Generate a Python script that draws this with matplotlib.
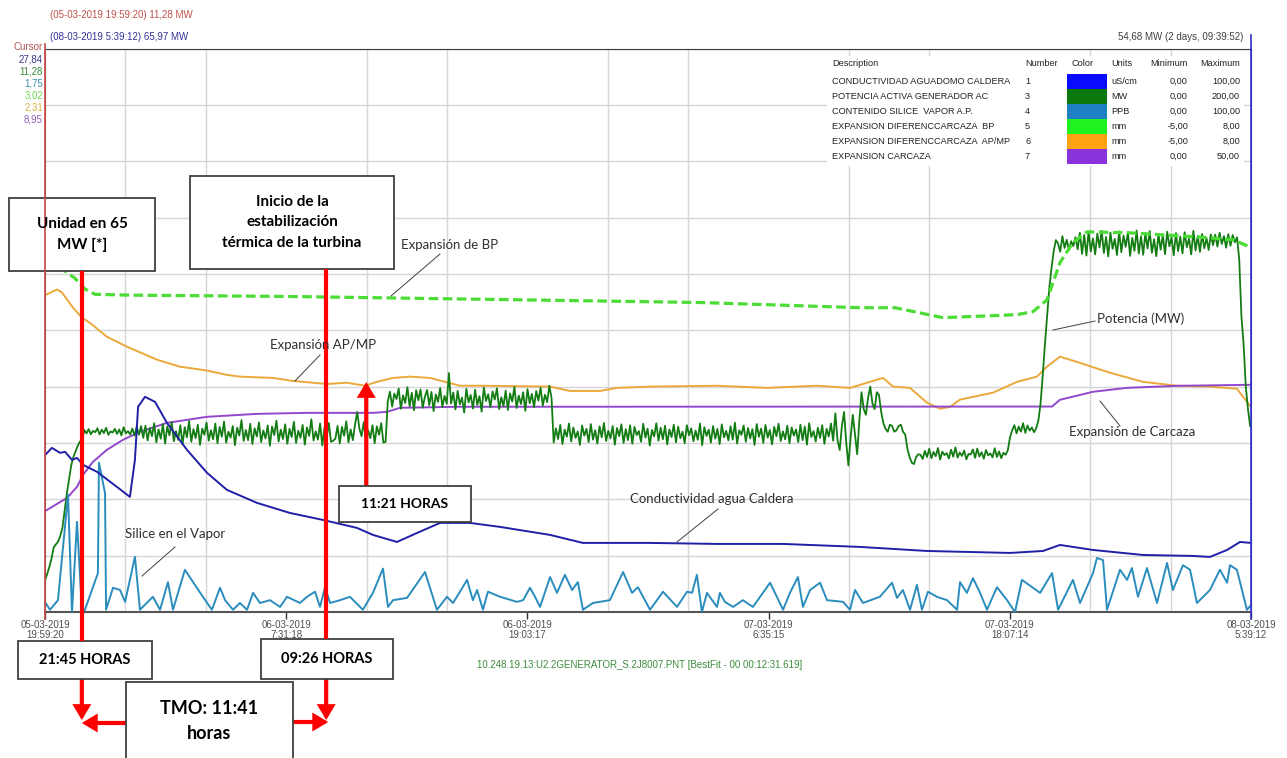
import numpy as np
import pandas as pd
import matplotlib.pyplot as plt
from matplotlib.patches import Rectangle, FancyArrowPatch

UI = 'Liberation Sans'
NOTE = 'Lato'

# trend window between the two cursors
t0 = pd.Timestamp('2019-03-05 19:59:20')
t1 = pd.Timestamp('2019-03-08 05:39:12')
span_h = (t1 - t0) / pd.Timedelta(hours=1)
dt_h = pd.Timedelta('00:12:31.619') / pd.Timedelta(hours=1)   # BestFit interval

tick_stamps = ['2019-03-05 19:59:20', '2019-03-06 07:31:18', '2019-03-06 19:03:17',
               '2019-03-07 06:35:15', '2019-03-07 18:07:14', '2019-03-08 05:39:12']
tick_labels = ['05-03-2019\n19:59:20', '06-03-2019\n7:31:18', '06-03-2019\n19:03:17',
               '07-03-2019\n6:35:15', '07-03-2019\n18:07:14', '08-03-2019\n5:39:12']

# pen table
desc = ['CONDUCTIVIDAD AGUADOMO CALDERA', 'POTENCIA ACTIVA GENERADOR AC',
        'CONTENIDO SILICE  VAPOR A.P.', 'EXPANSION DIFERENCCARCAZA  BP',
        'EXPANSION DIFERENCCARCAZA  AP/MP', 'EXPANSION CARCAZA']
numbers = [1, 3, 4, 5, 6, 7]
units = ['uS/cm', 'MW', 'PPB', 'mm', 'mm', 'mm']
v_min = [0, 0, 0, -5, -5, 0]
v_max = [100, 200, 100, 8, 8, 50]
swatch = ['#0a0aff', '#0b780b', '#1c80c2', '#1ff21f', '#ffa312', '#8a32dc']
pen = ['#1f1fa8', '#137c13', '#2a8dbd', '#4bdc35', '#eaa93a', '#9248cc']
cursor_txt = ['#3a3a8c', '#3d8a3d', '#3b8fb0', '#6fd656', '#d9b040', '#8b62b8']

# 1 - conductividad (uS/cm)
cond_t = [0, 0.33, 0.72, 0.96, 1.29, 1.53, 1.82, 2.49, 3.44, 4.06, 4.30, 4.45, 4.78, 5.26,
          5.83, 6.79, 7.75, 8.70, 10.14, 11.71, 13.29, 14.92, 15.68, 16.83, 17.79, 18.89,
          20.32, 21.76, 24.15, 25.72, 28.93, 32.13, 35.29, 38.97, 42.17, 46.14, 47.72,
          48.53, 50.11, 52.50, 54.89, 55.70, 56.52, 57.14, 57.66]
cond_v = [27.84, 29.13, 28.24, 28.42, 27.00, 27.35, 26.11, 24.87, 22.20, 20.43, 27.00, 36.41,
          38.19, 37.30, 33.57, 28.77, 24.69, 21.67, 19.36, 17.58, 16.34, 14.92, 13.68, 12.43,
          14.03, 15.81, 15.81, 15.10, 13.68, 12.26, 12.26, 12.08, 12.08, 11.55, 10.83, 10.48,
          10.83, 11.90, 11.01, 10.12, 9.95, 9.77, 11.01, 12.43, 12.26]

# 3 - potencia activa (MW), sampled every half BestFit interval
gen_mw = [
    # synchronisation ramp
    11.28, 13.5, 16, 19, 23, 24, 25, 27, 30, 36, 42, 47, 52, 55, 57, 59, 60.5, 61,
    # 65 MW hold
    64.6, 63.4, 64.9, 63.1, 64.3, 63.8, 65.2, 63.0, 64.7, 63.5,
    65.4, 62.9, 64.1, 63.7, 65.0, 63.2, 64.8, 62.7, 65.6, 63.4,
    64.2, 63.0, 65.1, 62.6, 65.8, 62.9, 66.0,
    61.8, 66.1, 60.9, 65.3, 62.4, 67.0, 60.2, 64.8, 61.5, 66.7,
    59.8, 65.9, 62.7, 67.4, 60.6, 64.2, 61.1, 66.3, 59.5, 65.6,
    62.0, 67.8, 60.4, 64.9, 61.7, 66.5, 59.3, 65.1, 62.9, 67.2,
    60.8, 64.5, 61.3, 66.9, 59.9, 65.7, 62.2, 67.6, 60.1, 64.0,
    61.9, 66.0, 59.2, 65.4, 62.6, 68.1, 60.7, 64.6, 61.0, 66.8,
    59.6, 65.2, 62.3, 67.3, 60.3, 64.4, 61.6, 66.2, 59.0, 65.8,
    62.8, 67.9, 60.5, 64.7, 61.4, 66.6, 59.7, 65.0, 62.1, 67.5,
    60.0, 64.3, 61.8, 66.4, 59.4, 65.5, 62.5, 68.4, 60.9, 64.1,
    61.2, 66.9, 59.1, 65.3, 62.0, 67.1, 60.4, 60.8, 61.5, 66.0,
    59.8, 65.7, 62.6, 67.7, 60.2, 64.8, 61.0, 66.5, 71.0, 65.1,
    62.4, 67.4, 60.6, 64.5, 61.7, 66.3, 59.9, 65.9, 62.9, 67.0,
    60.1, 60.4,
    # step up
    74.8, 78.2, 72.9, 77.5, 75.6, 79.3, 72.1, 76.9, 74.2, 79.8,
    73.0, 77.8, 71.6, 78.7, 75.2, 79.0, 72.5, 76.4, 78.8, 73.4,
    78.1, 71.3, 77.2, 74.6, 79.5, 72.8, 76.7, 73.9, 84.8, 74.0,
    77.9, 71.9, 78.5, 73.7, 76.1, 70.8, 79.2, 74.4, 77.0, 72.2,
    78.9, 73.5, 76.6, 71.1, 79.7, 74.9, 77.3, 72.6, 78.3, 75.4,
    79.4, 72.0, 76.2, 73.1, 78.6, 71.7, 77.6, 74.7, 79.9, 72.4,
    76.8, 73.8, 78.0, 71.4, 79.1, 74.1, 77.4, 72.7, 78.4, 75.0,
    79.6, 73.3, 77.1, 74.5, 80.3, 76.0,
    # back to 65 MW
    60.1, 65.2, 61.4, 66.4, 59.6, 64.7, 62.2, 66.9, 60.5, 65.5,
    61.8, 64.1, 59.3, 66.2, 62.6, 65.0, 60.3, 66.7, 61.2, 64.5,
    59.8, 65.9, 62.0, 67.1, 60.7, 64.3, 61.6, 66.0, 59.4, 65.3,
    62.4, 66.6, 60.0, 64.9, 61.0, 66.3, 59.7, 65.7, 62.8, 64.2,
    60.4, 66.8, 61.9, 65.1, 59.1, 64.6, 62.3, 67.0, 60.8, 65.4,
    61.3, 66.1, 59.5, 64.8, 62.1, 66.5, 60.2, 65.8, 61.7, 64.0,
    59.9, 66.3, 62.7, 65.2, 60.6, 64.4, 61.1, 66.9, 59.2, 65.6,
    62.5, 64.7, 60.1, 66.0, 61.5, 65.0, 59.6, 66.6, 62.0, 64.3,
    60.9, 65.9, 61.2, 67.2, 59.8, 64.5, 62.9, 66.2, 60.4, 65.3,
    61.6, 64.9, 59.3, 66.7, 62.2, 65.1, 60.0, 66.4, 61.9, 64.6,
    59.5, 65.7, 62.4, 66.8, 60.7, 64.1, 61.3, 66.1, 59.9, 65.5,
    62.6, 64.8, 60.3, 66.5, 61.0, 65.8, 59.4, 67.0, 62.1, 64.2,
    60.5, 65.4, 61.8, 66.3, 59.7, 65.0, 62.3, 66.9, 60.8, 70.5,
    61.0, 57.5, 66.0,
    # unstable stretch
    71, 60, 52, 62, 70, 63, 56, 68, 78, 72, 70, 76, 80, 74, 72, 78, 77, 71,
    67, 65, 64, 66.5, 66, 64, 64.5, 66, 66.5, 64, 63, 58, 55, 53, 52.5, 55, 56,
    # reduced load
    55.8, 54.3, 57.2, 55.0, 57.9, 54.6, 56.8, 55.3, 58.2, 54.1,
    56.9, 55.7, 56.4, 54.5, 57.6, 55.1, 58.4, 54.8, 56.6, 55.4,
    57.3, 54.2, 56.1, 55.9, 57.7, 54.7, 58.0, 55.2, 56.7, 54.4,
    57.5, 55.6, 56.3, 54.9, 58.1, 55.0, 57.0, 54.6, 56.5, 55.8,
    57.4,
    62.0, 64.5, 66.3, 63.4, 65.8, 64.0, 67.0, 63.6, 66.2, 64.4, 65.5, 63.8, 65.2,
    # load rise and full load
    68, 74, 84, 95, 105, 115, 122, 128, 132,
    130.8, 127.9, 133.4, 129.2, 132.1, 128.4, 131.6, 129.9, 133.0, 128.7,
    134.6, 127.1, 133.8, 126.5, 135.0, 128.0, 132.6, 126.9, 134.3, 129.4,
    135.3, 127.4, 133.1, 126.2, 134.7, 128.9, 132.4, 126.7, 135.1, 127.7,
    133.6, 129.6, 134.9, 126.4, 132.8, 128.2, 135.4, 127.2, 133.3, 126.8,
    134.4, 129.0, 135.2, 127.5, 132.3, 126.3, 134.1, 128.6, 133.7, 127.0,
    135.0, 129.8, 132.9, 126.6, 134.5, 128.1, 133.2, 127.3, 134.8, 129.5,
    132.5, 126.9, 135.3, 128.3, 133.5, 127.8, 134.2, 129.1, 132.7, 128.5,
    134.0, 130.2, 133.9, 129.7, 134.6, 130.6, 133.4, 129.3, 134.1, 130.0,
    133.8, 131.2, 133.0,
    # load drop
    125, 105, 95, 80, 72, 65.97]

# 4 - silice en vapor (PPB)
sil_t = [0, 0.24, 0.62, 1.10, 1.29, 1.53, 1.77, 1.91, 2.53, 2.58,
         2.87, 2.92, 3.25, 3.59, 3.83, 4.30, 4.54, 5.16, 5.50, 5.88,
         6.12, 6.69, 7.08, 7.55, 7.98, 8.37, 8.61, 8.99, 9.32, 9.66,
         9.95, 10.28, 10.76, 11.24, 11.57, 12.19, 12.53, 12.91, 13.15, 13.39,
         13.63, 14.11, 14.58, 15.20, 15.68, 16.16, 16.40, 16.64, 17.31, 18.17,
         18.74, 19.22, 19.51, 19.84, 20.18, 20.46, 20.66, 20.94, 21.18, 21.76,
         22.57, 22.86, 23.19, 23.43, 23.67, 24.15, 24.48, 24.86, 25.20, 25.48,
         25.72, 26.20, 27.01, 27.64, 28.07, 28.35, 28.93, 29.55, 30.22, 30.70,
         30.94, 31.17, 31.41, 31.65, 32.13, 32.27, 32.51, 32.90, 33.37, 33.85,
         34.67, 35.29, 35.62, 36.00, 36.24, 36.58, 37.06, 37.39, 38.16, 38.49,
         38.73, 39.11, 39.92, 40.50, 40.74, 41.02, 41.36, 41.69, 41.93, 42.22,
         42.65, 43.13, 43.61, 43.75, 44.08, 44.37, 44.71, 45.04, 45.52, 46.00,
         46.38, 46.71, 47.58, 48.15, 48.44, 49.15, 49.49, 50.11, 50.30, 50.59,
         50.78, 51.40, 51.74, 51.97, 52.26, 52.69, 53.17, 53.65, 53.93, 54.41,
         54.75, 55.08, 55.70, 56.18, 56.52, 56.66, 56.99, 57.47, 57.66]
sil_v = [1.75, 0.4, 2.1, 20.8, 0.0, 16.0, 0.0, 0.4, 6.9, 26.5,
         21.1, 0.4, 4.3, 3.9, 1.8, 9.8, 0.4, 2.7, 0.4, 5.3,
         0.4, 7.5, 5.3, 2.7, 0.4, 4.3, 2.1, 0.4, 1.6, 0.4,
         3.4, 1.6, 2.1, 0.9, 2.7, 1.6, 2.7, 3.6, 0.9, 4.4,
         1.6, 2.1, 2.7, 0.4, 3.4, 7.7, 0.9, 2.1, 2.5, 7.1,
         0.4, 2.7, 1.6, 3.6, 5.7, 2.1, 3.9, 0.4, 3.6, 2.7,
         1.8, 2.1, 4.3, 2.7, 0.9, 6.2, 3.4, 6.6, 3.9, 5.3,
         0.4, 1.6, 2.1, 7.1, 3.4, 4.4, 0.4, 3.6, 0.9, 3.6,
         3.4, 6.6, 0.0, 3.4, 0.9, 3.4, 1.8, 0.9, 2.1, 0.9,
         5.2, 0.4, 3.4, 6.2, 0.9, 3.9, 5.2, 2.1, 1.8, 0.4,
         3.9, 1.6, 2.7, 5.2, 2.5, 3.9, 0.4, 4.8, 0.4, 3.6,
         2.7, 2.1, 0.4, 5.3, 3.4, 6.0, 3.4, 0.4, 4.4, 2.1,
         0.0, 5.7, 3.4, 6.9, 0.4, 5.7, 1.6, 6.9, 9.6, 9.2,
         0.4, 7.5, 5.7, 7.8, 2.7, 7.8, 1.6, 8.7, 3.9, 8.3,
         7.5, 1.6, 3.9, 7.5, 5.2, 8.3, 7.5, 0.4, 1.2]

# 5 - expansion diferencial BP (mm)
bp_t = [0, 0.72, 1.43, 1.91, 2.39, 4.06, 11.52, 23.05, 31.32, 38.97, 40.64, 41.84, 42.94,
        44.47, 46.48, 47.24, 47.91, 48.53, 49.15, 49.82, 51.74, 54.89, 56.80, 57.66]
bp_v = [3.02, 2.95, 2.70, 2.45, 2.33, 2.31, 2.28, 2.20, 2.14, 2.02, 2.02, 1.90, 1.79,
        1.82, 1.86, 1.93, 2.20, 3.06, 3.52, 3.77, 3.75, 3.66, 3.59, 3.41]

# 6 - expansion diferencial AP/MP (mm)
ap_t = [0, 0.57, 0.81, 1.34, 1.77, 2.15, 2.96, 3.92, 5.36, 6.45, 7.75, 8.70, 9.32, 10.90,
        11.86, 13.48, 14.44, 15.30, 15.87, 16.64, 17.45, 18.41, 19.84, 20.94, 24.15, 25.10,
        26.54, 27.35, 28.93, 32.13, 34.52, 36.91, 38.49, 39.45, 40.07, 40.55, 41.36, 42.17,
        42.79, 43.27, 43.75, 45.33, 46.48, 47.43, 47.91, 48.53, 49.34, 50.92, 52.50, 54.13,
        55.70, 56.99, 57.66]
ap_v = [2.31, 2.44, 2.37, 2.02, 1.79, 1.67, 1.35, 1.12, 0.82, 0.66, 0.57, 0.47, 0.43, 0.40,
        0.33, 0.26, 0.29, 0.22, 0.31, 0.40, 0.43, 0.40, 0.22, 0.22, 0.20, 0.10, 0.10, 0.17,
        0.20, 0.22, 0.17, 0.22, 0.17, 0.31, 0.40, 0.20, 0.17, -0.17, -0.31, -0.27, -0.10,
        0.06, 0.31, 0.43, 0.66, 0.89, 0.77, 0.52, 0.31, 0.22, 0.20, 0.15, -0.27]

# 7 - expansion carcaza (mm)
car_t = [0, 1.05, 1.53, 1.82, 2.29, 2.96, 3.73, 4.54, 5.83, 7.75, 10.14, 12.53, 15.68,
         16.35, 16.98, 19.84, 48.15, 48.53, 50.11, 51.74, 54.13, 57.66]
car_v = [8.95, 10.12, 11.10, 12.17, 13.32, 14.39, 15.28, 15.99, 16.78, 17.32, 17.58, 17.67,
         17.67, 17.76, 18.12, 18.21, 18.23, 18.83, 19.54, 19.89, 20.07, 20.16]

gen_t = np.arange(len(gen_mw)) * dt_h / 2
series = [(cond_t, cond_v), (gen_t, gen_mw), (sil_t, sil_v),
          (bp_t, bp_v), (ap_t, ap_v), (car_t, car_v)]


def pct(i, v):
    return (np.asarray(v, dtype=float) - v_min[i]) / (v_max[i] - v_min[i]) * 100


def hours(stamp):
    return (pd.Timestamp(stamp) - t0) / pd.Timedelta(hours=1)


def fmt(v):
    return f'{v:.2f}'.replace('.', ',')


W, H = 1287, 758
L, R, TOP, BOT = 45, 1251, 48.5, 612

fig = plt.figure(figsize=(W / 100, H / 100), dpi=100)
ax = fig.add_axes([L / W, 1 - BOT / H, (R - L) / W, (BOT - TOP) / H])
ax.set_xlim(0, span_h)
ax.set_ylim(0, 100)

ax.set_xticks(np.linspace(0, span_h, 16), minor=True)
ax.set_xticks([hours(s) for s in tick_stamps])
ax.set_xticklabels(tick_labels, fontsize=7, family=UI, color='#505050', linespacing=1.0)
ax.set_yticks(np.arange(0, 101, 10))
ax.set_yticklabels([])
ax.tick_params(axis='y', length=0)
ax.tick_params(axis='x', which='major', length=5, width=1, color='#333333', pad=1)
ax.tick_params(axis='x', which='minor', length=0)
ax.grid(axis='x', which='minor', color='#d6d6d6', lw=1)
ax.grid(axis='y', color='#d6d6d6', lw=1)
ax.set_axisbelow(True)
ax.spines['top'].set_color('#3a3a3a')
ax.spines['left'].set_color('#c04848')
ax.spines['right'].set_color('#3030c8')
ax.spines['bottom'].set_color('#555555')
ax.spines['bottom'].set_linewidth(1.5)

# draw order: AP/MP, carcaza, MW, BP, silice, conductivity
ax.plot(ap_t, pct(4, ap_v), color=pen[4], lw=1.4, zorder=2)
ax.plot(car_t, pct(5, car_v), color=pen[5], lw=1.4, zorder=3)
ax.plot(gen_t, pct(1, gen_mw), color=pen[1], lw=1.3, zorder=4)
ax.plot(bp_t, pct(3, bp_v), color=pen[3], lw=2.3, dashes=(3, 1.4), zorder=5)
ax.plot(sil_t, pct(2, sil_v), color=pen[2], lw=1.4, zorder=6)
ax.plot(cond_t, pct(0, cond_v), color=pen[0], lw=1.4, zorder=7)

# overlay in figure pixels for cursors, table and notes
ov = fig.add_axes([0, 0, 1, 1], zorder=10)
ov.set_xlim(0, W)
ov.set_ylim(H, 0)
ov.axis('off')
ov.patch.set_alpha(0)


def tx(h):
    return L + h / span_h * (R - L)


ov.plot([L, L], [44, 619], color='#c04848', lw=1.2)
ov.plot([R, R], [35, 619], color='#3030c8', lw=1.2)

ov.text(50, 15, f'({t0:%d-%m-%Y %H:%M:%S}) {fmt(gen_mw[0])} MW', fontsize=7, family=UI,
        color='#c0504d', va='center')
ov.text(50, 37, f'(08-03-2019 5:39:12) {fmt(gen_mw[-1])} MW', fontsize=7, family=UI,
        color='#33339a', va='center')
ov.text(1243, 37, '54,68 MW (2 days, 09:39:52)', fontsize=7, family=UI,
        color='#404040', va='center', ha='right')

ov.text(43, 47, 'Cursor', fontsize=7, family=UI, color='#b05050', ha='right', va='center')
for i, (t, v) in enumerate(series):
    ov.text(43, 60 + i * 12, fmt(v[0]), fontsize=7, family=UI, color=cursor_txt[i],
            ha='right', va='center')

# pen table, every cell on a shared baseline
ov.add_patch(Rectangle((827, 56), 417, 110, fc='white', ec='none'))
tkw = dict(fontsize=6.6, family=UI, color='#222222', va='baseline')
hy = 66
ov.text(832, hy, 'Description', **tkw)
ov.text(1025, hy, 'Number', **tkw)
ov.text(1083, hy, 'Color', ha='center', **tkw)
ov.text(1111, hy, 'Units', **tkw)
ov.text(1188, hy, 'Minimum', ha='right', **tkw)
ov.text(1240, hy, 'Maximum', ha='right', **tkw)
for i in range(len(desc)):
    y = 81 + i * 15
    yb = y + 3.3
    ov.text(832, yb, desc[i], **tkw)
    ov.text(1025, yb, str(numbers[i]), **tkw)
    ov.add_patch(Rectangle((1067, y - 7.5), 40, 15, fc=swatch[i], ec='none'))
    ov.text(1111, yb, units[i], **tkw)
    ov.text(1188, yb, fmt(v_min[i]), ha='right', **tkw)
    ov.text(1240, yb, fmt(v_max[i]), ha='right', **tkw)

ov.text(640, 665, '10.248.19.13:U2.2GENERATOR_S.2J8007.PNT [BestFit - 00 00:12:31.619]',
        fontsize=7, family=UI, color='#3c8c3c', ha='center', va='center')

# curve labels with leader lines
notes = [('Expansión de BP', 401, 245, (440, 254), (391, 296)),
         ('Expansión AP/MP', 270, 345, (320, 355), (295, 381)),
         ('Silice en el Vapor', 125, 534, (175, 547), (142, 576)),
         ('Conductividad agua Caldera', 630, 499, (718, 509), (677, 542)),
         ('Potencia (MW)', 1097, 319, (1095, 321), (1053, 330)),
         ('Expansión de Carcaza', 1069, 432, (1120, 426), (1100, 401))]
for txt, x, y, p0, p1 in notes:
    ov.text(x, y, txt, fontsize=9.5, family=NOTE, color='#303030', va='center')
    ov.plot([p0[0], p1[0]], [p0[1], p1[1]], color='#404040', lw=0.7)

# event markers
RED = '#ff0000'
x_a = tx(hours('2019-03-05 21:45'))
x_b = tx(hours('2019-03-06 09:26'))
x_c = tx(hours('2019-03-06 11:21'))


def red_arrow(p0, p1):
    ov.add_patch(FancyArrowPatch(p0, p1, arrowstyle='-|>,head_length=7,head_width=4.2',
                                 mutation_scale=1, color=RED, lw=3, shrinkA=0, shrinkB=0,
                                 joinstyle='miter'))


ov.plot([x_a, x_a], [271, 641], color=RED, lw=3, solid_capstyle='butt')
ov.plot([x_b, x_b], [269, 639], color=RED, lw=3, solid_capstyle='butt')
red_arrow((x_a, 679), (x_a, 720))
red_arrow((x_b, 679), (x_b, 720))
red_arrow((126, 723), (x_a, 723))
red_arrow((293, 722), (x_b + 2, 722))
red_arrow((x_c, 486), (x_c, 382))

boxes = [((9, 198, 146, 73), 'Unidad en 65\nMW [*]', 11),
         ((190, 176, 204, 93), 'Inicio de la\nestabilización\ntérmica de la turbina', 11),
         ((18, 641, 134, 38), '21:45 HORAS', 10.5),
         ((261, 639, 132, 40), '09:26 HORAS', 10.5),
         ((339, 486, 132, 36), '11:21 HORAS', 10),
         ((126, 682, 167, 80), 'TMO: 11:41\nhoras', 13)]
for (x, y, w, h), txt, fs in boxes:
    ov.add_patch(Rectangle((x, y), w, h, fc='white', ec='#404040', lw=1.3))
    cy = y + h / 2 if y + h < H else 721
    ov.text(x + w / 2, cy, txt, fontsize=fs, family=NOTE, weight='bold', color='black',
            ha='center', va='center', linespacing=1.55)

fig.savefig('out.png', dpi=100, facecolor='white')
